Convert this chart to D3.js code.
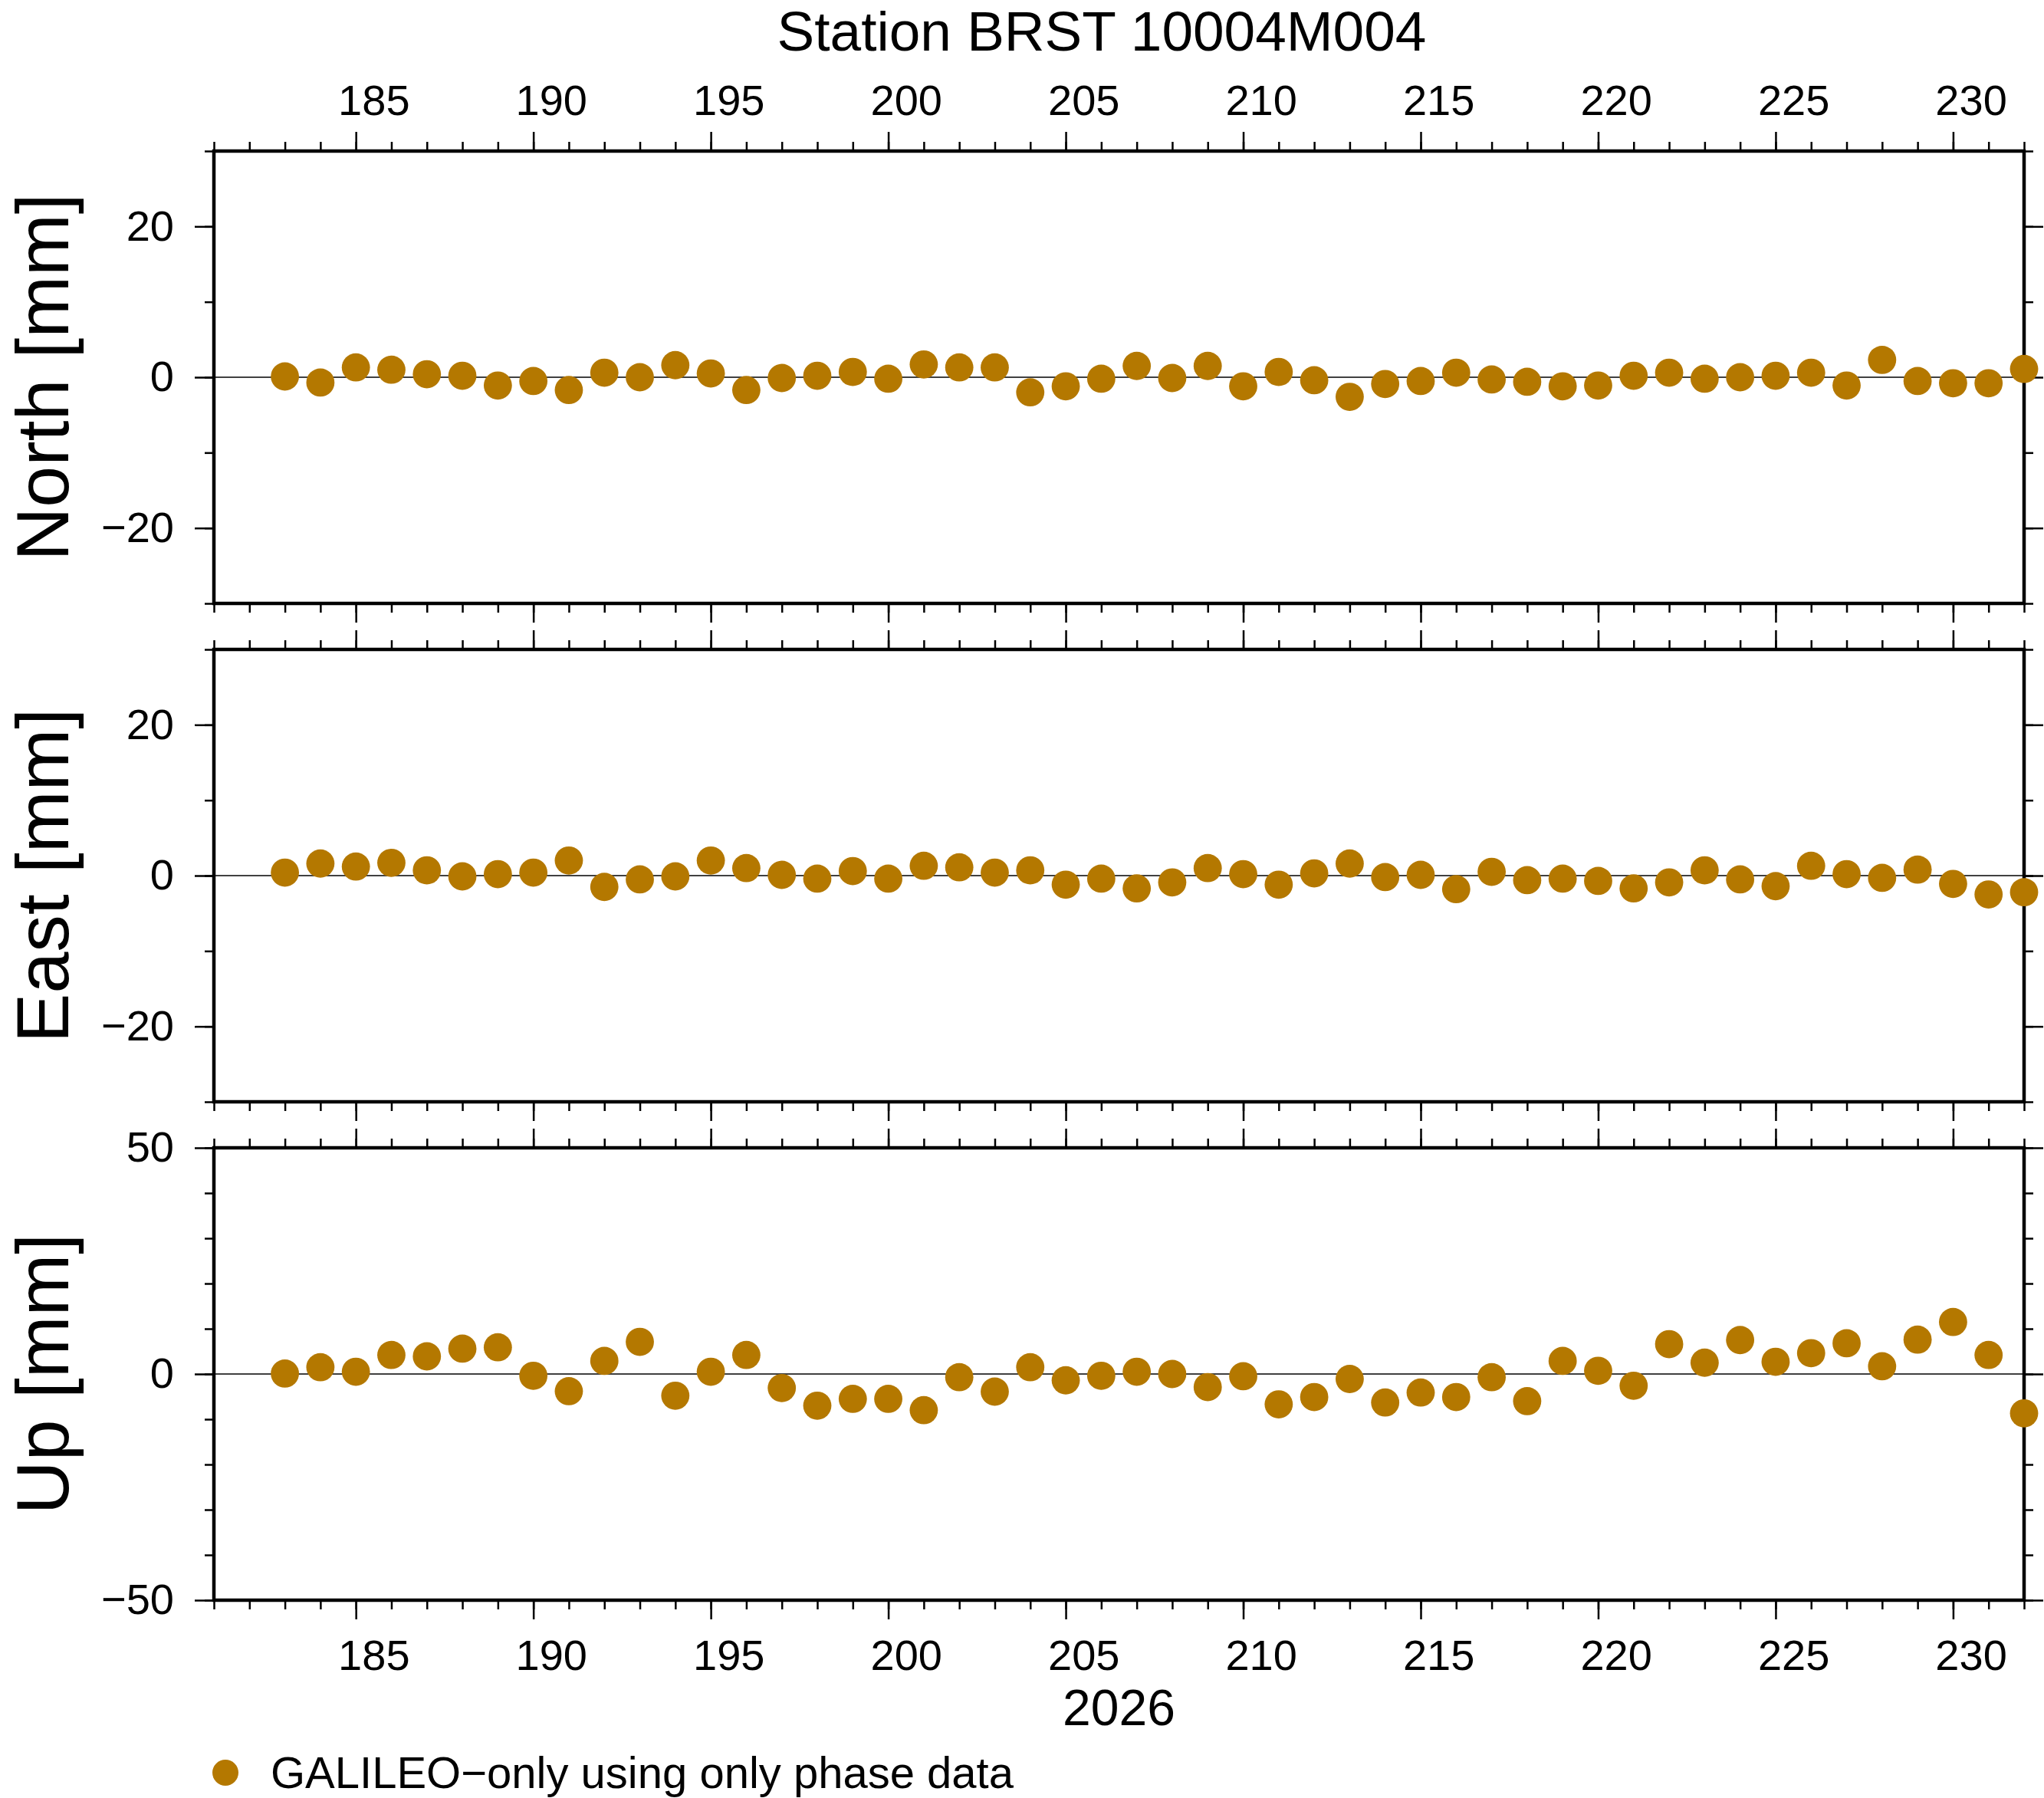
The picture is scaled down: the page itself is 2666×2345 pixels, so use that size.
<!doctype html>
<html>
<head>
<meta charset="utf-8">
<title>Station BRST 10004M004</title>
<script src="https://d3js.org/d3.v7.min.js"></script>
<style>
  body { margin: 0; background: #fff; }
  text { font-family: "Liberation Sans", Arial, Helvetica, sans-serif; fill: #000; }
</style>
</head>
<body>
<script>
// day of year 2026
var days = [183, 184, 185, 186, 187, 188, 189, 190, 191, 192,
            193, 194, 195, 196, 197, 198, 199, 200, 201, 202,
            203, 204, 205, 206, 207, 208, 209, 210, 211, 212,
            213, 214, 215, 216, 217, 218, 219, 220, 221, 222,
            223, 224, 225, 226, 227, 228, 229, 230, 231, 232];

var north = [0.1, -0.7, 1.3, 1.0, 0.4, 0.2, -1.1, -0.5, -1.7, 0.6,
             0.0, 1.6, 0.5, -1.7, -0.1, 0.2, 0.7, -0.2, 1.7, 1.3,
             1.3, -2.0, -1.2, -0.2, 1.5, -0.1, 1.5, -1.2, 0.7, -0.4,
             -2.6, -0.9, -0.5, 0.6, -0.3, -0.6, -1.2, -1.1, 0.2, 0.6,
             -0.2, 0.0, 0.2, 0.6, -1.1, 2.3, -0.5, -0.8, -0.8, 1.1];

var east = [0.4, 1.6, 1.2, 1.7, 0.7, -0.1, 0.2, 0.4, 2.0, -1.5,
            -0.5, -0.1, 2.0, 1.0, 0.1, -0.4, 0.6, -0.4, 1.3, 1.1,
            0.4, 0.7, -1.2, -0.4, -1.7, -0.9, 1.0, 0.2, -1.2, 0.3,
            1.6, -0.2, 0.1, -1.8, 0.5, -0.6, -0.4, -0.7, -1.7, -0.9,
            0.7, -0.5, -1.4, 1.3, 0.2, -0.3, 0.8, -1.1, -2.5, -2.2];

var up = [0.1, 1.5, 0.5, 4.2, 3.9, 5.6, 5.9, -0.4, -3.8, 2.9,
          7.1, -4.8, 0.5, 4.2, -3.1, -7.0, -5.5, -5.5, -8.0, -0.7,
          -3.9, 1.5, -1.4, -0.4, 0.5, 0.0, -2.9, -0.5, -6.7, -5.1,
          -1.1, -6.3, -4.1, -5.1, -0.7, -6.0, 2.9, 0.7, -2.6, 6.6,
          2.5, 7.5, 2.7, 4.6, 6.8, 1.7, 7.6, 11.5, 4.2, -8.7];

var dayRange = [181, 232];
var dayLabels = [185, 190, 195, 200, 205, 210, 215, 220, 225, 230];
var nsTicks = [-20, 0, 20];
var upTicks = [-50, 0, 50];

var titleText = "Station BRST 10004M004";
var yearText = "2026";
var legendText = "GALILEO\u2212only using only phase data";
var dotColor = "#b47800";

var width = 2666;
var height = 2345;
var left = 279, right = 2640;
var panelTop = 197, panelH = 590, gap = 60;
var majorLen = 25, minorLen = 12;
var dotR = 18.4;

var panels = [
    { name: "North [mm]", values: north, domain: [-30, 30], labels: nsTicks, minor: 6 },
    { name: "East [mm]",  values: east,  domain: [-30, 30], labels: nsTicks, minor: 6 },
    { name: "Up [mm]",    values: up,    domain: [-50, 50], labels: upTicks, minor: 10 }
];

var svg = d3.select("body")
    .append("svg")
    .attr("width", width)
    .attr("height", height);

var x = d3.scaleLinear()
    .domain(dayRange)
    .range([left, right]);

var halfDay = x(0.5) - x(0);
var fmt = d3.format("d");

function styleAxis(g, size) {
    g.select(".domain").remove();
    g.selectAll(".tick line").attr("stroke", "#000").attr("stroke-width", 2.5);
    g.selectAll(".tick text").attr("font-size", size).attr("fill", "#000")
        .style("font-family", "'Liberation Sans', Arial, sans-serif");
}

panels.forEach(function (p, i) {
    var top = panelTop + i * (panelH + gap);
    var bottom = top + panelH;

    var y = d3.scaleLinear()
        .domain(p.domain)
        .range([bottom, top]);

    // x ticks, top and bottom of every panel
    var xMinorTop = d3.axisTop(x).ticks(51).tickSize(minorLen).tickFormat("");
    var xMinorBot = d3.axisBottom(x).ticks(51).tickSize(minorLen).tickFormat("");
    var xMajorTop = d3.axisTop(x).tickValues(dayLabels).tickSize(majorLen).tickPadding(22)
        .tickFormat(i === 0 ? fmt : "");
    var xMajorBot = d3.axisBottom(x).tickValues(dayLabels).tickSize(majorLen).tickPadding(26)
        .tickFormat(i === 2 ? fmt : "");

    svg.append("g").attr("transform", "translate(0," + top + ")").call(xMinorTop).call(styleAxis, 56);
    svg.append("g").attr("transform", "translate(0," + bottom + ")").call(xMinorBot).call(styleAxis, 56);
    var gt = svg.append("g").attr("transform", "translate(0," + top + ")").call(xMajorTop).call(styleAxis, 56);
    var gb = svg.append("g").attr("transform", "translate(0," + bottom + ")").call(xMajorBot).call(styleAxis, 56);
    // day labels sit in the middle of the day
    gt.selectAll(".tick text").attr("x", halfDay);
    gb.selectAll(".tick text").attr("x", halfDay);

    // y ticks, left and right
    svg.append("g").attr("transform", "translate(" + left + ",0)")
        .call(d3.axisLeft(y).ticks(p.minor).tickSize(minorLen).tickFormat("")).call(styleAxis, 56);
    svg.append("g").attr("transform", "translate(" + right + ",0)")
        .call(d3.axisRight(y).ticks(p.minor).tickSize(minorLen).tickFormat("")).call(styleAxis, 56);
    svg.append("g").attr("transform", "translate(" + left + ",0)")
        .call(d3.axisLeft(y).tickValues(p.labels).tickSize(majorLen).tickPadding(27).tickFormat(fmt))
        .call(styleAxis, 56);
    svg.append("g").attr("transform", "translate(" + right + ",0)")
        .call(d3.axisRight(y).tickValues(p.labels).tickSize(majorLen).tickFormat(""))
        .call(styleAxis, 56);

    // zero line
    svg.append("line")
        .attr("x1", left).attr("x2", right)
        .attr("y1", y(0)).attr("y2", y(0))
        .attr("stroke", "#000").attr("stroke-width", 1.3);

    // frame
    svg.append("rect")
        .attr("x", left).attr("y", top)
        .attr("width", right - left).attr("height", panelH)
        .attr("fill", "none").attr("stroke", "#000").attr("stroke-width", 4.5);

    // points
    svg.append("g").selectAll("circle")
        .data(p.values)
        .enter()
            .append("circle")
            .attr("cx", function (d, j) { return x(days[j]); })
            .attr("cy", function (d) { return y(d); })
            .attr("r", dotR)
            .attr("fill", dotColor);

    // y label
    svg.append("text")
        .attr("transform", "translate(89," + (top + panelH / 2) + ") rotate(-90)")
        .attr("text-anchor", "middle")
        .attr("font-size", 97)
        .text(p.name);
});

svg.append("text")
    .attr("x", 1437).attr("y", 66)
    .attr("text-anchor", "middle")
    .attr("font-size", 73)
    .text(titleText);

svg.append("text")
    .attr("x", (left + right) / 2).attr("y", 2250)
    .attr("text-anchor", "middle")
    .attr("font-size", 66)
    .text(yearText);

svg.append("circle")
    .attr("cx", 294).attr("cy", 2312)
    .attr("r", 17)
    .attr("fill", dotColor);

svg.append("text")
    .attr("x", 353).attr("y", 2332)
    .attr("font-size", 58)
    .text(legendText);
</script>
</body>
</html>
